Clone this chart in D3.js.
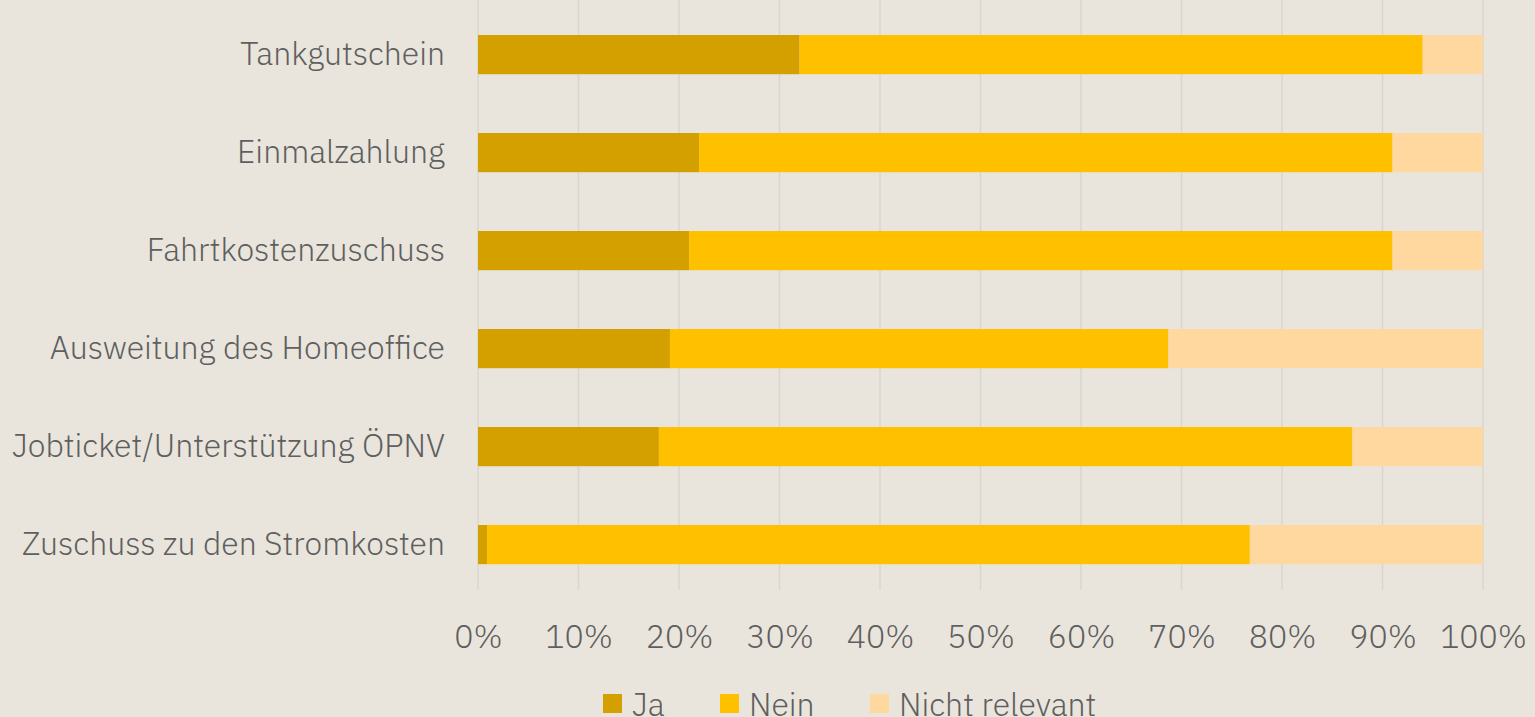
<!DOCTYPE html>
<html>
<head>
<meta charset="utf-8">
<script src="https://cdn.jsdelivr.net/npm/d3@7"></script>
<style>
  body { margin: 0; background: #e9e5dc; }
  svg { display: block; }
  text { font-family: "IBM Plex Sans", Lato, "Open Sans", sans-serif; font-weight: 300; fill: #5f5f5f; }
</style>
</head>
<body>
<svg width="1535" height="717"></svg>
<script>
const categories = [
    'Tankgutschein',
    'Einmalzahlung',
    'Fahrtkostenzuschuss',
    'Ausweitung des Homeoffice',
    'Jobticket/Unterstützung ÖPNV',
    'Zuschuss zu den Stromkosten'
];
const seriesNames = ['Ja', 'Nein', 'Nicht relevant'];
const ja = [32, 22, 21, 19.1, 18, 0.9];
const nein = [62, 69, 70, 49.6, 69, 75.9];
const nichtRelevant = [6, 9, 9, 31.3, 13, 23.2];
const colors = ['#d4a000', '#ffc000', '#ffd8a0'];
const xTicks = [0, 10, 20, 30, 40, 50, 60, 70, 80, 90, 100];

const svg = d3.select('svg');
const margin = { top: 0, right: 52, left: 478 };
const width = +svg.attr('width');
const innerWidth = width - margin.left - margin.right;

const rows = categories.map((c, i) => ({
    category: c, 'Ja': ja[i], 'Nein': nein[i], 'Nicht relevant': nichtRelevant[i]
}));
const stacked = d3.stack().keys(seriesNames)(rows);

const xScale = d3.scaleLinear().domain([0, 100]).range([0, innerWidth]);
const yScale = d3.scaleBand()
    .domain(categories)
    .range([5.6, 593.6])
    .paddingInner(0.6)
    .paddingOuter(0.3);

const g = svg.append('g')
    .attr('transform', `translate(${margin.left}, ${margin.top})`);

// gridlines
g.append('g')
    .selectAll('line').data(xTicks)
    .enter().append('line')
    .attr('x1', d => xScale(d)).attr('x2', d => xScale(d))
    .attr('y1', 0).attr('y2', 590)
    .attr('stroke', '#d9d6d0')
    .attr('stroke-width', 1.5);

// bars
g.selectAll('g.series').data(stacked)
    .enter().append('g')
    .attr('class', 'series')
    .attr('fill', (d, i) => colors[i])
    .selectAll('rect').data(d => d)
    .enter().append('rect')
    .attr('x', d => xScale(d[0]))
    .attr('y', d => yScale(d.data.category))
    .attr('width', d => xScale(d[1]) - xScale(d[0]))
    .attr('height', yScale.bandwidth());

// y axis
const yAxisG = g.append('g').call(d3.axisLeft(yScale).tickSize(0).tickPadding(33));
yAxisG.select('.domain').remove();

// x axis
const xAxisG = g.append('g')
    .call(d3.axisBottom(xScale).tickValues(xTicks).tickFormat(d => d + '%').tickSize(0));
xAxisG.select('.domain').remove();
xAxisG.selectAll('text')
    .attr('y', 648)
    .attr('dy', null);

svg.selectAll('.tick text')
    .attr('fill', '#5f5f5f')
    .attr('font-family', null)
    .attr('font-size', 32);

// legend
const legendX = [603, 720, 870];
const legend = svg.append('g');
seriesNames.forEach((name, i) => {
    legend.append('rect')
        .attr('x', legendX[i]).attr('y', 694)
        .attr('width', 19).attr('height', 19)
        .attr('fill', colors[i]);
    legend.append('text')
        .attr('x', legendX[i] + 29).attr('y', 716)
        .attr('font-size', 32)
        .text(name);
});
</script>
</body>
</html>
